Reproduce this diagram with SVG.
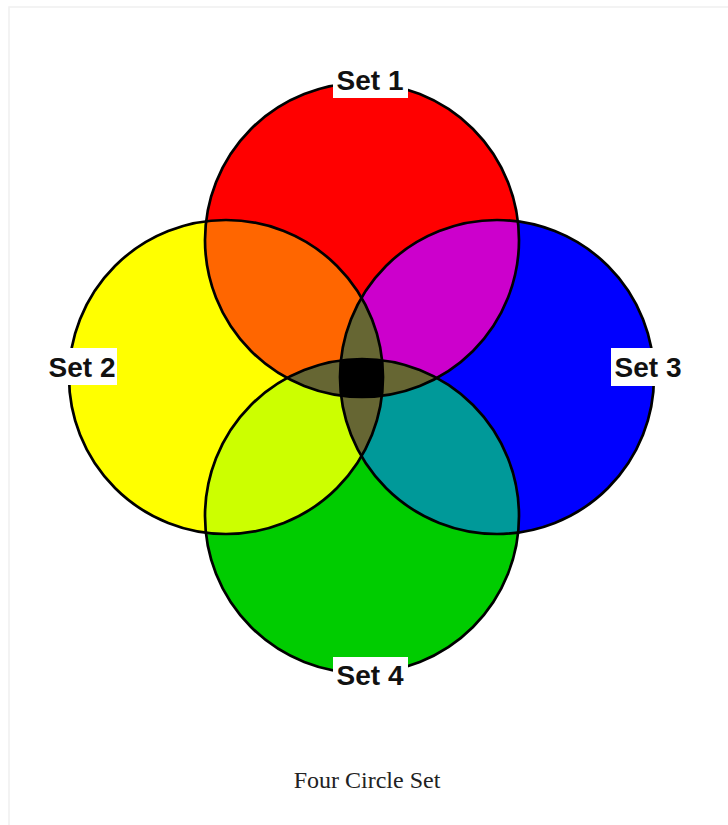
<svg xmlns="http://www.w3.org/2000/svg" width="728" height="825" viewBox="0 0 728 825">
<style>
.outline{fill:none;stroke:#000;stroke-width:2.7}
.lblbg{fill:#fff}
.lbl{font-family:"Liberation Sans",Arial,sans-serif;font-weight:bold;font-size:28px;fill:#111;text-anchor:middle}
.cap{font-family:"Liberation Serif","Times New Roman",serif;font-size:24px;fill:#222;text-anchor:middle}
</style>
<defs>
<clipPath id="kR"><circle cx="362" cy="240" r="157"/></clipPath>
<clipPath id="kY"><circle cx="226" cy="377" r="157"/></clipPath>
<clipPath id="kB"><circle cx="497" cy="377" r="157"/></clipPath>
<clipPath id="kG"><circle cx="362" cy="516" r="157"/></clipPath>
</defs>
<rect x="9" y="7" width="740" height="840" fill="#fff" stroke="#f0f0f0" stroke-width="1.5"/>
<g id="base">
<circle id="set1" cx="362" cy="240" r="157" fill="#FF0000"/>
<circle id="set2" cx="226" cy="377" r="157" fill="#FFFF00"/>
<circle id="set3" cx="497" cy="377" r="157" fill="#0000FF"/>
<circle id="set4" cx="362" cy="516" r="157" fill="#00CC00"/>
</g>
<g id="pairs">
<circle cx="226" cy="377" r="157" fill="#FF6600" clip-path="url(#kR)"/>
<circle cx="497" cy="377" r="157" fill="#CC00CC" clip-path="url(#kR)"/>
<circle cx="226" cy="377" r="157" fill="#CCFF00" clip-path="url(#kG)"/>
<circle cx="497" cy="377" r="157" fill="#009999" clip-path="url(#kG)"/>
<circle cx="362" cy="516" r="157" fill="#666633" clip-path="url(#kR)"/>
<circle cx="497" cy="377" r="157" fill="#666633" clip-path="url(#kY)"/>
</g>
<g id="all4" clip-path="url(#kB)">
<g clip-path="url(#kY)">
<circle cx="362" cy="516" r="157" fill="#000" clip-path="url(#kR)"/>
</g>
</g>
<g id="outlines">
<circle class="outline" cx="362" cy="240" r="157"/>
<circle class="outline" cx="226" cy="377" r="157"/>
<circle class="outline" cx="497" cy="377" r="157"/>
<circle class="outline" cx="362" cy="516" r="157"/>
</g>
<g id="label1">
<rect class="lblbg" x="333" y="62" width="75" height="36"/>
<text class="lbl" x="370" y="90">Set 1</text>
</g>
<g id="label2">
<rect class="lblbg" x="45" y="348" width="72" height="37"/>
<text class="lbl" x="82" y="377">Set 2</text>
</g>
<g id="label3">
<rect class="lblbg" x="611" y="348" width="75" height="38"/>
<text class="lbl" x="648" y="377">Set 3</text>
</g>
<g id="label4">
<rect class="lblbg" x="333" y="657" width="75" height="36"/>
<text class="lbl" x="370" y="685">Set 4</text>
</g>
<text class="cap" x="367" y="788">Four Circle Set</text>
</svg>
